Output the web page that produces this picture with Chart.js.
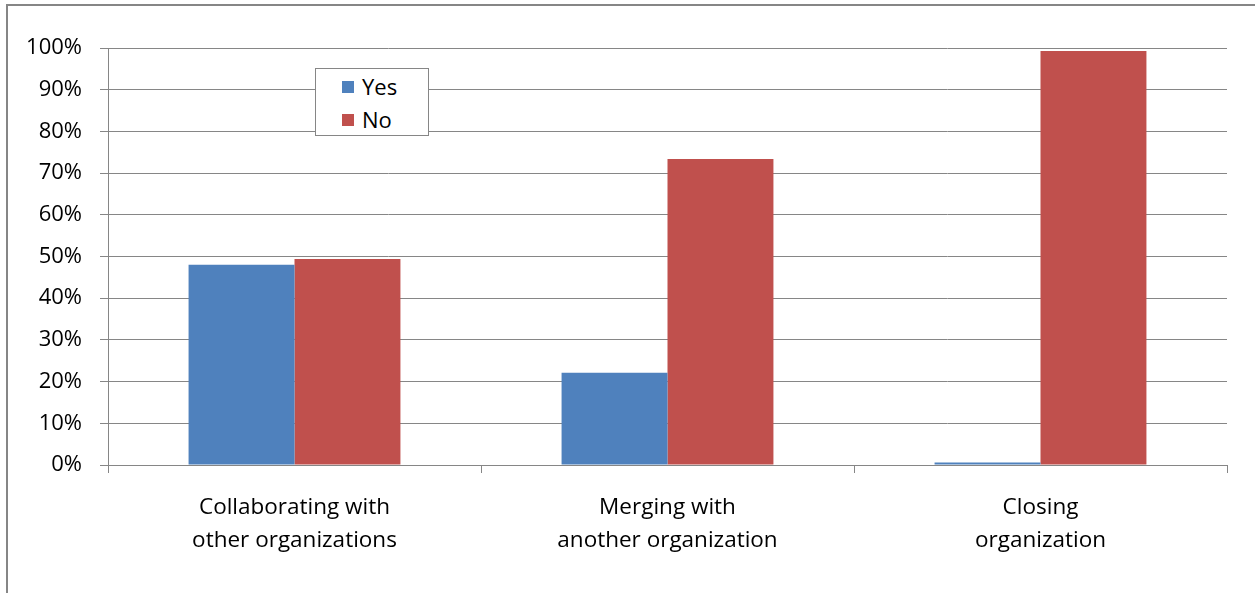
<!DOCTYPE html>
<html lang="en">
<head>
    <meta charset="UTF-8">
    <title>Yes / No by option</title>
    <script src="https://cdn.jsdelivr.net/npm/chart.js@4/dist/chart.umd.min.js"></script>
    <style>
        html, body {
            margin: 0;
            padding: 0;
            background: #fff;
            overflow: hidden;
        }
        .wrap {
            position: relative;
            width: 1255px;
            height: 593px;
        }
        .frame {
            position: absolute;
            left: 6px;
            top: 4px;
            width: 1260px;
            height: 600px;
            border-left: 2px solid #868686;
            border-top: 2px solid #868686;
        }
        canvas {
            position: absolute;
            left: 0;
            top: 0;
        }
        #legend {
            position: absolute;
            left: 315px;
            top: 68px;
            width: 112px;
            height: 66px;
            border: 1px solid #868686;
            background: #fff;
            font-family: "Open Sans", sans-serif;
            font-size: 22px;
            color: #000;
        }
        #legend div {
            position: absolute;
            left: 26px;
            height: 30px;
            line-height: 30px;
        }
        #legend span {
            display: inline-block;
            width: 12px;
            height: 12px;
            margin-right: 8px;
            vertical-align: 2px;
        }
    </style>
</head>
<body>
    <div class="wrap">
        <div class="frame"></div>
        <canvas id="chart" width="1255" height="593"></canvas>
        <div id="legend"></div>
    </div>

    <script>
        // data
        const categories = [
            ['Collaborating with', 'other organizations'],
            ['Merging with', 'another organization'],
            ['Closing', 'organization']
        ];
        const yesValues = [48.0, 22.1, 0.6];
        const noValues = [49.4, 73.4, 99.3];
        const seriesNames = ['Yes', 'No'];
        const seriesColors = ['#4F81BD', '#C0504D'];

        const font = "'Open Sans', sans-serif";
        const gray = '#868686';

        // legend as html
        const legend = document.getElementById('legend');
        seriesNames.forEach((name, i) => {
            const row = document.createElement('div');
            row.style.top = (2 + i * 33) + 'px';
            row.innerHTML = '<span style="background:' + seriesColors[i] + '"></span>' + name;
            legend.appendChild(row);
        });

        const ctx = document.getElementById('chart').getContext('2d');
        new Chart(ctx, {
            type: 'bar',
            data: {
                labels: categories,
                datasets: [
                    {
                        label: seriesNames[0],
                        data: yesValues,
                        backgroundColor: seriesColors[0],
                        borderWidth: 0
                    },
                    {
                        label: seriesNames[1],
                        data: noValues,
                        backgroundColor: seriesColors[1],
                        borderWidth: 0
                    }
                ]
            },
            options: {
                responsive: false,
                animation: false,
                devicePixelRatio: 1,
                categoryPercentage: 0.568,
                barPercentage: 1.0,
                layout: {
                    padding: { top: 48, right: 28, bottom: 0, left: 0 }
                },
                plugins: {
                    legend: { display: false },
                    tooltip: { enabled: false }
                },
                scales: {
                    x: {
                        offset: true,
                        grid: {
                            offset: true,
                            drawOnChartArea: false,
                            color: gray,
                            tickLength: 8
                        },
                        border: { color: gray, width: 1 },
                        ticks: {
                            color: '#000',
                            padding: 18,
                            maxRotation: 0,
                            font: { family: font, size: 22.5, lineHeight: 1.47 }
                        },
                        afterFit: (scale) => { scale.height = 128; }
                    },
                    y: {
                        min: 0,
                        max: 100,
                        grid: {
                            color: gray,
                            tickLength: 8
                        },
                        border: { color: gray, width: 1 },
                        ticks: {
                            stepSize: 10,
                            color: '#000',
                            padding: 18,
                            font: { family: font, size: 22 },
                            callback: (v) => v + '%'
                        },
                        afterFit: (scale) => { scale.width = 108; }
                    }
                }
            }
        });
    </script>
</body>
</html>
